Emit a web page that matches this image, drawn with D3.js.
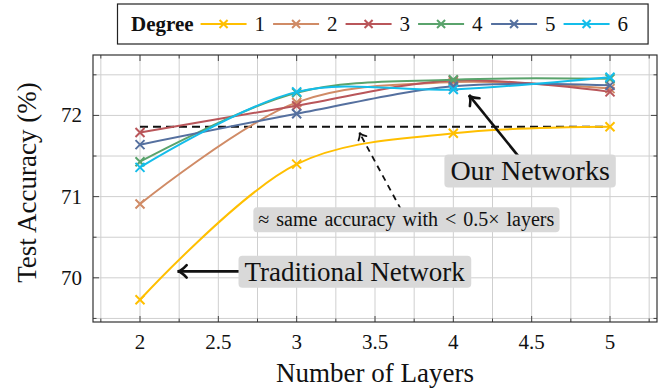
<!DOCTYPE html>
<html>
<head>
<meta charset="utf-8">
<script src="https://cdn.jsdelivr.net/npm/d3@7"></script>
<style>
  body { margin: 0; background: #fff; }
  svg { display: block; }
  text { font-family: "Liberation Serif", "DejaVu Serif", serif; fill: #111; }
</style>
</head>
<body>
<div id="chart"></div>
<script>
const layers = [2, 3, 4, 5]
const degrees = ["1", "2", "3", "4", "5", "6"]
const acc1 = [69.73, 71.40, 71.78, 71.86]
const acc2 = [70.91, 72.16, 72.41, 72.33]
const acc3 = [71.79, 72.12, 72.43, 72.29]
const acc4 = [71.43, 72.28, 72.44, 72.45]
const acc5 = [71.64, 72.02, 72.36, 72.37]
const acc6 = [71.36, 72.29, 72.32, 72.47]
const colors = ["#ffbf00", "#d08b66", "#b9565a", "#5aa36c", "#55709f", "#14bdea"]
const xTicks = [2, 2.5, 3, 3.5, 4, 4.5, 5]
const yTicks = [70, 71, 72]

// dashed reference line: best traditional network accuracy
const refLevel = acc1[acc1.length - 1]

// annotations: label centre and arrow tip in data units
const notes = [
    { text: "Our Networks", at: [4.49, 71.32], tip: [4.1, 72.25], size: 28, dashed: false },
    { text: "\u2248 same accuracy with < 0.5\u00d7 layers", at: [3.70, 70.72], tip: [3.40, 71.79], size: 20, dashed: true },
    { text: "Traditional Network", at: [3.37, 70.08], tip: [2.24, 70.08], size: 27, dashed: false }
]

const series = [acc1, acc2, acc3, acc4, acc5, acc6].map((vals, i) => ({
    name: degrees[i],
    color: colors[i],
    points: layers.map((l, j) => [l, vals[j]])
}))

const W = 665, H = 389
const box = { left: 93, right: 657, top: 55, bottom: 322 }

// pgfplots style: enlarge limits by 10% of data range
const allY = series.flatMap(s => s.points.map(p => p[1]))
const [yMin, yMax] = d3.extent(allY)
const yPad = (yMax - yMin) * 0.1
const [xMin, xMax] = d3.extent(layers)
const xPad = (xMax - xMin) * 0.1

const x = d3.scaleLinear().domain([xMin - xPad, xMax + xPad]).range([box.left, box.right])
const y = d3.scaleLinear().domain([yMin - yPad, yMax + yPad]).range([box.bottom, box.top])

const svg = d3.select("#chart").append("svg")
    .attr("width", W)
    .attr("height", H)

// grid
const xGrid = d3.range(1.75, 5.26, 0.25)
const yGrid = d3.range(69.5, 72.51, 0.5)
const grid = svg.append("g")
grid.selectAll("line.gx").data(xGrid).join("line")
    .attr("x1", d => x(d)).attr("x2", d => x(d))
    .attr("y1", box.top).attr("y2", box.bottom)
    .style("stroke", "#cfcfcf").style("stroke-width", 1)
grid.selectAll("line.gy").data(yGrid).join("line")
    .attr("y1", d => y(d)).attr("y2", d => y(d))
    .attr("x1", box.left).attr("x2", box.right)
    .style("stroke", "#cfcfcf").style("stroke-width", 1)

// ticks on all four sides, pointing inward
function isMajor(v, step) { return Math.abs(v / step - Math.round(v / step)) < 1e-6 }
const ticks = svg.append("g").style("stroke", "#444").style("stroke-width", 1)
xGrid.forEach(v => {
    const len = isMajor(v, 0.5) ? 6 : 3.5
    ticks.append("line").attr("x1", x(v)).attr("x2", x(v)).attr("y1", box.bottom).attr("y2", box.bottom - len)
    ticks.append("line").attr("x1", x(v)).attr("x2", x(v)).attr("y1", box.top).attr("y2", box.top + len)
})
yGrid.forEach(v => {
    const len = isMajor(v, 1) ? 6 : 3.5
    ticks.append("line").attr("y1", y(v)).attr("y2", y(v)).attr("x1", box.left).attr("x2", box.left + len)
    ticks.append("line").attr("y1", y(v)).attr("y2", y(v)).attr("x1", box.right).attr("x2", box.right - len)
})

// tick labels
svg.append("g").selectAll("text").data(xTicks).join("text")
    .attr("x", d => x(d))
    .attr("y", 349)
    .attr("text-anchor", "middle")
    .style("font-size", "21px")
    .text(d => d)
svg.append("g").selectAll("text").data(yTicks).join("text")
    .attr("x", 82)
    .attr("y", d => y(d) + 7)
    .attr("text-anchor", "end")
    .style("font-size", "21px")
    .text(d => d)

// axis titles
svg.append("text")
    .attr("x", (box.left + box.right) / 2)
    .attr("y", 382)
    .attr("text-anchor", "middle")
    .style("font-size", "27px")
    .text("Number of Layers")
svg.append("text")
    .attr("transform", `translate(36,${(box.top + box.bottom) / 2 - 6}) rotate(-90)`)
    .attr("text-anchor", "middle")
    .style("font-size", "27px")
    .text("Test Accuracy (%)")

// dashed reference
svg.append("line")
    .attr("x1", x(xMin)).attr("x2", x(xMax))
    .attr("y1", y(refLevel)).attr("y2", y(refLevel))
    .style("stroke", "#111").style("stroke-width", 2)
    .style("stroke-dasharray", "8,5")

// series
const line = d3.line()
    .x(d => x(d[0]))
    .y(d => y(d[1]))
    .curve(d3.curveCatmullRom.alpha(0.5))

function cross(g, cx, cy, r, color) {
    g.append("path")
        .attr("d", `M${cx - r},${cy - r}L${cx + r},${cy + r}M${cx - r},${cy + r}L${cx + r},${cy - r}`)
        .style("stroke", color).style("stroke-width", 2).style("fill", "none")
}

series.forEach(s => {
    const g = svg.append("g")
    g.append("path")
        .attr("d", line(s.points))
        .style("fill", "none")
        .style("stroke", s.color)
        .style("stroke-width", 2)
    s.points.forEach(p => cross(g, x(p[0]), y(p[1]), 4.5, s.color))
})

// annotations
function arrowHead(g, x1, y1, x2, y2, len, width) {
    const a = Math.atan2(y2 - y1, x2 - x1)
    const l1 = [x2 - len * Math.cos(a - 0.6), y2 - len * Math.sin(a - 0.6)]
    const l2 = [x2 - len * Math.cos(a + 0.6), y2 - len * Math.sin(a + 0.6)]
    g.append("path")
        .attr("d", `M${l1[0]},${l1[1]}Q${x2 - len * 0.3 * Math.cos(a)},${y2 - len * 0.3 * Math.sin(a)} ${x2},${y2}Q${x2 - len * 0.3 * Math.cos(a)},${y2 - len * 0.3 * Math.sin(a)} ${l2[0]},${l2[1]}`)
        .style("fill", "none").style("stroke", "#111").style("stroke-width", width)
        .style("stroke-linecap", "round")
}

notes.forEach(n => {
    const g = svg.append("g")
    const cx = x(n.at[0]), cy = y(n.at[1])
    const tx = x(n.tip[0]), ty = y(n.tip[1])
    const w = n.dashed ? 1.8 : 2.6
    g.append("line")
        .attr("x1", cx).attr("y1", cy).attr("x2", tx).attr("y2", ty)
        .style("stroke", "#111").style("stroke-width", w)
        .style("stroke-dasharray", n.dashed ? "6,5" : null)
    arrowHead(g, cx, cy, tx, ty, n.dashed ? 8 : 11, w)

    const label = g.append("text")
        .attr("x", cx).attr("y", cy)
        .attr("text-anchor", "middle")
        .attr("dy", "0.35em")
        .style("font-size", n.size + "px")
        .style("word-spacing", n.dashed ? "2px" : null)
        .text(n.text)
    const bb = label.node().getBBox()
    const px = n.dashed ? 5 : 6
    g.insert("rect", "text")
        .attr("x", bb.x - px).attr("y", bb.y - 1)
        .attr("width", bb.width + 2 * px).attr("height", bb.height + 2)
        .attr("rx", 4)
        .style("fill", "#d9d9d9")
})

// frame
svg.append("rect")
    .attr("x", box.left).attr("y", box.top)
    .attr("width", box.right - box.left).attr("height", box.bottom - box.top)
    .style("fill", "none").style("stroke", "#333").style("stroke-width", 1.2)

// legend
const leg = svg.append("g")
const legY = 24
let lx = 131
const head = leg.append("text")
    .attr("x", lx).attr("y", legY + 7)
    .style("font-size", "21px").style("font-weight", "bold")
    .text("Degree")
lx += head.node().getBBox().width + 7
series.forEach(s => {
    leg.append("line")
        .attr("x1", lx).attr("x2", lx + 46)
        .attr("y1", legY).attr("y2", legY)
        .style("stroke", s.color).style("stroke-width", 2)
    cross(leg, lx + 23, legY, 4, s.color)
    lx += 54
    const t = leg.append("text")
        .attr("x", lx).attr("y", legY + 7)
        .style("font-size", "21px")
        .text(s.name)
    lx += t.node().getBBox().width + 8
})
leg.insert("rect", ":first-child")
    .attr("x", 117.5).attr("y", 4)
    .attr("width", lx - 117.5 + 12).attr("height", 40)
    .style("fill", "#fff").style("stroke", "#222").style("stroke-width", 1.2)
</script>
</body>
</html>
